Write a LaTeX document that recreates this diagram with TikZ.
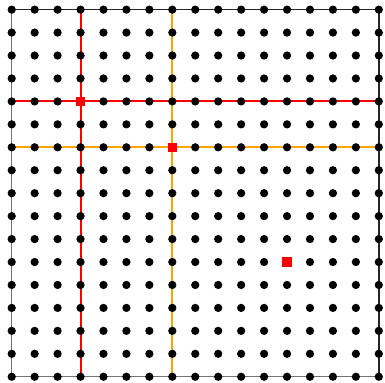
\documentclass[tikz,border=0pt]{standalone}
\definecolor{lineorange}{RGB}{255,165,0}
\begin{document}
\begin{tikzpicture}[gridline/.style={line width=2.4pt}, frameline/.style={line width=1.8pt}]
        \useasboundingbox (-0.51,-0.23) rectangle (16.27,16.42);
        \draw[frameline, black!55] (0,16) -- (0,0) -- (16,0);
        \draw[frameline, black!85] (0,16) -- (16,16) -- (16,0);
        \draw[gridline, red] (3,0) -- (3,16);
        \draw[gridline, red] (0,12) -- (16,12);
        \draw[gridline, lineorange] (7,0) -- (7,16);
        \draw[gridline, lineorange] (0,10) -- (16,10);
        \foreach \x in {0,...,16}
            \foreach \y in {0,...,16}
                \fill (\x,\y) circle (0.18);
        \foreach \p in {(3,12),(7,10),(12,5)}
            \fill[red] \p ++(-0.2,-0.2) rectangle ++(0.4,0.4);
    \end{tikzpicture}
\end{document}
